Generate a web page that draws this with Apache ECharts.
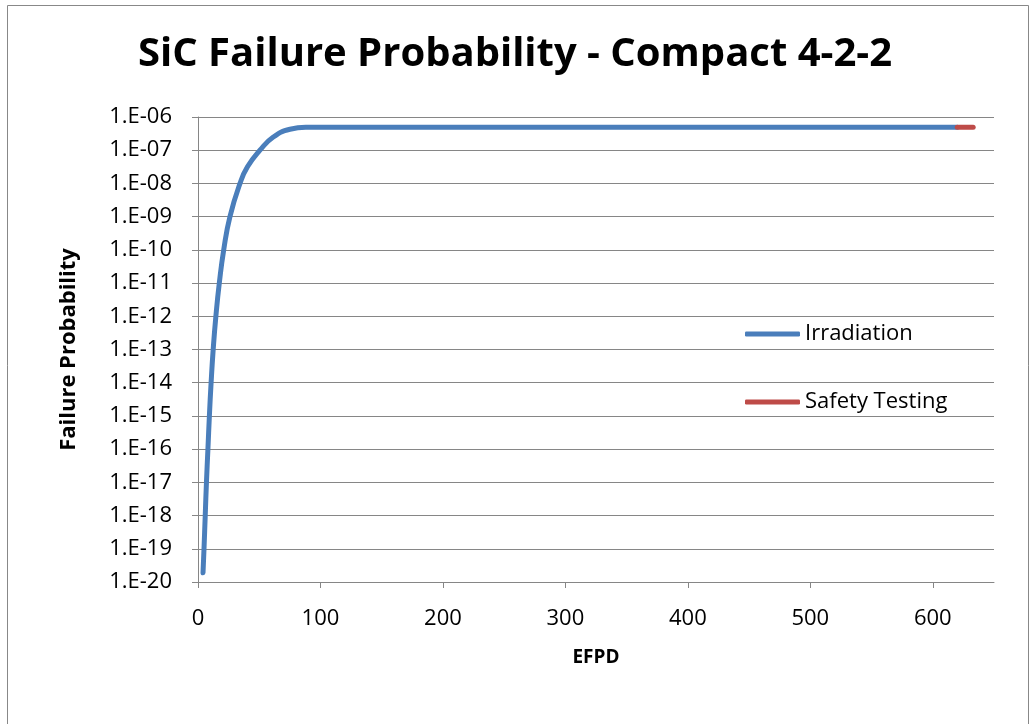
<!DOCTYPE html>
<html>
<head>
<meta charset="utf-8">
<script src="https://cdn.jsdelivr.net/npm/echarts@6/dist/echarts.min.js"></script>
<style>
html,body{margin:0;padding:0;background:#fff;}
#chart{width:1030px;height:724px;}
</style>
</head>
<body>
<div id="chart"></div>
<script>
// EFPD values and failure probabilities
const irradiationEFPD = [4.1, 4.9, 5.9, 6.9, 8.1, 9.3, 10.7, 12.4, 14.6, 17.4, 21.0, 26.1, 34.3, 40.4, 50.6, 61.5, 75.1, 88.8, 100, 620];
const irradiationProb = [1.9e-20, 1e-19, 1e-18, 1e-17, 1e-16, 1e-15, 1e-14, 1e-13, 1e-12, 1e-11, 1e-10, 1e-9, 1e-8, 3.16e-8, 1e-7, 2.5e-7, 4.27e-7, 4.88e-7, 4.9e-7, 4.9e-7];
const safetyEFPD = [620, 633];
const safetyProb = [4.9e-7, 4.9e-7];
const xTickValues = [0, 100, 200, 300, 400, 500, 600];
const yTickLabels = ['1.E-20','1.E-19','1.E-18','1.E-17','1.E-16','1.E-15','1.E-14','1.E-13','1.E-12','1.E-11','1.E-10','1.E-09','1.E-08','1.E-07','1.E-06'];

const FONT = 'Open Sans';
const GRID = '#868686';

const chart = echarts.init(document.getElementById('chart'), null, {renderer: 'canvas'});
const zip = (xs, ys) => xs.map((x, i) => [x, ys[i]]);

chart.setOption({
  animation: false,
  backgroundColor: '#fff',
  title: {
    text: 'SiC Failure Probability - Compact 4-2-2',
    left: 'center',
    top: 30,
    textStyle: {fontFamily: FONT, fontWeight: 'bold', fontSize: 40, color: '#000'}
  },
  graphic: [{
    type: 'rect',
    shape: {x: 7.5, y: 5.5, width: 1021, height: 740},
    style: {fill: 'none', stroke: '#888', lineWidth: 1},
    silent: true
  }],
  legend: {
    orient: 'vertical',
    left: 740,
    top: 318,
    itemWidth: 55,
    itemHeight: 5,
    itemGap: 46,
    icon: 'roundRect',
    textStyle: {fontFamily: FONT, fontSize: 22, color: '#000', padding: [0, 0, 0, 0]},
    data: ['Irradiation', 'Safety Testing']
  },
  grid: {left: 198, right: 36, top: 117, bottom: 142, containLabel: false},
  xAxis: {
    type: 'value',
    min: 0,
    max: 650,
    interval: 100,
    name: 'EFPD',
    nameLocation: 'middle',
    nameGap: 66,
    nameTextStyle: {fontFamily: FONT, fontWeight: 'bold', fontSize: 19, color: '#000'},
    axisLine: {show: true, lineStyle: {color: GRID, width: 1}},
    axisTick: {show: true, length: 6, lineStyle: {color: GRID}, customValues: xTickValues},
    axisLabel: {fontFamily: FONT, fontSize: 22, color: '#000', margin: 26, customValues: xTickValues},
    splitLine: {show: false}
  },
  yAxis: {
    type: 'log',
    logBase: 10,
    min: 1e-20,
    max: 1e-6,
    interval: 1,
    name: 'Failure Probability',
    nameLocation: 'middle',
    nameRotate: 90,
    nameGap: 118,
    nameTextStyle: {fontFamily: FONT, fontWeight: 'bold', fontSize: 22, color: '#000'},
    axisLine: {show: true, lineStyle: {color: GRID, width: 1}},
    axisTick: {show: true, length: 6, lineStyle: {color: GRID}},
    axisLabel: {
      fontFamily: FONT, fontSize: 22, color: '#000', margin: 26,
      formatter: function (v) {
        const e = Math.round(Math.log10(v));
        return yTickLabels[e + 20];
      }
    },
    splitLine: {show: true, lineStyle: {color: GRID, width: 1}},
    minorTick: {show: false}
  },
  series: [
    {
      name: 'Irradiation',
      type: 'line',
      data: zip(irradiationEFPD, irradiationProb),
      showSymbol: false,
      smooth: 0.5,
      lineStyle: {color: '#4A7EBB', width: 5, cap: 'round', join: 'round'},
      itemStyle: {color: '#4A7EBB'},
      z: 2
    },
    {
      name: 'Safety Testing',
      type: 'line',
      data: zip(safetyEFPD, safetyProb),
      showSymbol: false,
      lineStyle: {color: '#BE4B48', width: 5, cap: 'round'},
      itemStyle: {color: '#BE4B48'},
      z: 3
    }
  ]
});
</script>
</body>
</html>
